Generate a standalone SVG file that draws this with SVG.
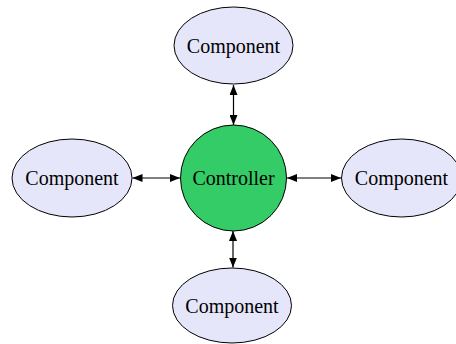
<svg xmlns="http://www.w3.org/2000/svg" width="456" height="344" viewBox="0 0 456 344">
<defs>
<style>
.comp{fill:#e6e6fa;stroke:#000;stroke-width:1}
.ctrl{fill:#33cc66;stroke:#000;stroke-width:1}
.lbl{font-size:20px;fill:#000;text-anchor:middle}
.edge{stroke:#000;stroke-width:1.2;fill:none;marker-start:url(#ah);marker-end:url(#ah)}
</style>
<marker id="ah" viewBox="0 0 10 8" refX="10" refY="4" markerWidth="10" markerHeight="8" markerUnits="userSpaceOnUse" orient="auto-start-reverse">
<path d="M0,0 L10,4 L0,8 Z" fill="#000"/>
</marker>
</defs>
<rect width="456" height="344" fill="#fff"/>
<g id="connectors">
<line class="edge" x1="233.5" y1="85" x2="233.5" y2="125"/>
<line class="edge" x1="132.5" y1="178" x2="180" y2="178"/>
<line class="edge" x1="287" y1="178" x2="341" y2="178"/>
<line class="edge" x1="233" y1="231" x2="233" y2="267.5"/>
</g>
<g font-family="'Liberation Serif', 'Times New Roman', 'DejaVu Serif', serif">
<g id="controller">
<circle class="ctrl" cx="233.5" cy="178" r="53"/>
<text class="lbl" x="233.5" y="185">Controller</text>
</g>
<g id="component-top">
<ellipse class="comp" cx="233.5" cy="45.5" rx="59.5" ry="38.5"/>
<text class="lbl" x="233.5" y="53">Component</text>
</g>
<g id="component-left">
<ellipse class="comp" cx="72" cy="178" rx="60" ry="39"/>
<text class="lbl" x="72" y="185">Component</text>
</g>
<g id="component-right">
<ellipse class="comp" cx="401.5" cy="178" rx="60" ry="39"/>
<text class="lbl" x="401.5" y="185">Component</text>
</g>
<g id="component-bottom">
<ellipse class="comp" cx="232" cy="305.5" rx="59.5" ry="37.5"/>
<text class="lbl" x="232" y="313">Component</text>
</g>
</g>
</svg>
